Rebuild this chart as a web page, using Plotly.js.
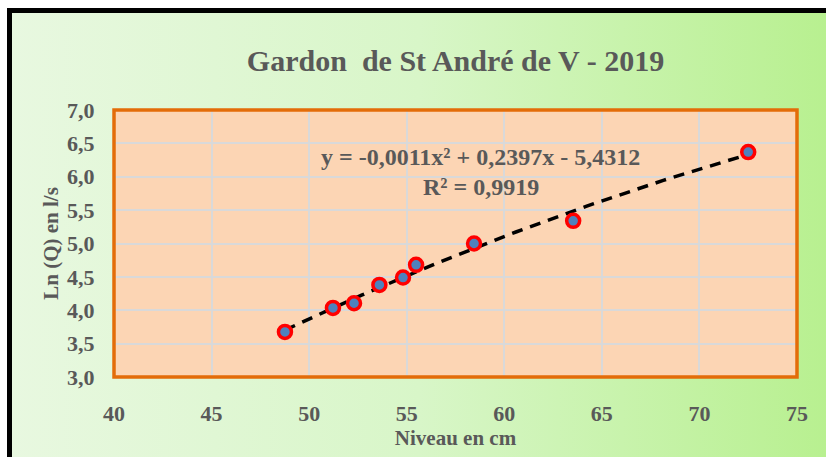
<!DOCTYPE html>
<html><head><meta charset="utf-8">
<script src="https://cdn.plot.ly/plotly-3.0.1.min.js"></script>
<style>
html,body{margin:0;padding:0;background:#fff;width:826px;height:457px;overflow:hidden;}
#wrap{position:absolute;left:7px;top:8px;width:814px;height:444px;border-left:5px solid #000;border-top:5px solid #000;
background:linear-gradient(to right,#e8f8e0 0%,#d8f6c8 50%,#b8f090 100%);}
#chart{width:814px;height:444px;}
</style></head>
<body><div id="wrap"><div id="chart"></div></div>
<script>
const niveau = [48.76, 51.22, 52.3, 53.6, 54.81, 55.48, 58.45, 63.53, 72.5];
const lnQ    = [3.675, 4.035, 4.105, 4.38, 4.49, 4.68, 5.0, 5.34, 6.37];
const titleText = "Gardon&nbsp; de St André de V - 2019";
const eqText = "y = -0,0011x² + 0,2397x - 5,4312";
const r2Text = "R² = 0,9919";

// quadratic least-squares trendline from the data
function quadFit(x, y){
  let S=[0,0,0,0,0], T=[0,0,0];
  for(let i=0;i<x.length;i++){
    let p=1;
    for(let k=0;k<5;k++){S[k]+=p; if(k<3)T[k]+=p*y[i]; p*=x[i];}
  }
  const A=[[S[0],S[1],S[2],T[0]],[S[1],S[2],S[3],T[1]],[S[2],S[3],S[4],T[2]]];
  for(let i=0;i<3;i++){
    for(let j=i+1;j<3;j++){const f=A[j][i]/A[i][i]; for(let k=i;k<4;k++)A[j][k]-=f*A[i][k];}
  }
  const c=[0,0,0];
  for(let i=2;i>=0;i--){let s=A[i][3]; for(let k=i+1;k<3;k++)s-=A[i][k]*c[k]; c[i]=s/A[i][i];}
  return c;
}
const c = quadFit(niveau, lnQ);
const xmin = Math.min(...niveau), xmax = Math.max(...niveau);
const tx=[], ty=[];
for(let i=0;i<=60;i++){const x=xmin+(xmax-xmin)*i/60; tx.push(x); ty.push(c[0]+c[1]*x+c[2]*x*x);}

const grey = '#595959';
const fontF = '"Liberation Serif","Times New Roman",serif';

const data = [
  {x: tx, y: ty, mode:'lines', line:{color:'#000', width:3.5, dash:'11px,8px'}, hoverinfo:'skip', showlegend:false},
  {x: niveau, y: lnQ, mode:'markers', marker:{size:13, color:'#4f81bd', line:{color:'#ff0000', width:3.5}}, showlegend:false}
];

const layout = {
  width:814, height:444,
  margin:{l:102, r:29, t:97, b:80},
  paper_bgcolor:'rgba(0,0,0,0)',
  plot_bgcolor:'#fcd5b4',
  separators:', ',
  font:{family:fontF, color:grey},
  title:{text:'<b>'+titleText+'</b>', font:{size:30, family:fontF, color:grey}, xref:'paper', x:0.5, xanchor:'center', yref:'container', y:0.892, yanchor:'middle'},
  xaxis:{range:[40,75], dtick:5, tick0:40, showgrid:true, gridcolor:'#d9d9d9', gridwidth:2, zeroline:false,
         showline:false, ticks:'outside', ticklen:17, tickcolor:'rgba(0,0,0,0)', tickfont:{size:22, family:fontF, color:grey, weight:'bold'},
         title:{text:'<b>Niveau en cm</b>', font:{size:21, family:fontF, color:grey}, standoff:3}},
  yaxis:{range:[3,7], dtick:0.5, tick0:3, tickformat:'.1f', showgrid:true, gridcolor:'#d9d9d9', gridwidth:2, zeroline:false,
         showline:false, ticks:'outside', ticklen:14, tickcolor:'rgba(0,0,0,0)', tickfont:{size:22, family:fontF, color:grey, weight:'bold'},
         title:{text:'<b>Ln (Q) en l/s</b>', font:{size:21, family:fontF, color:grey}, standoff:2}},
  shapes:[
    {type:'rect', xref:'paper', yref:'paper', x0:0, x1:1, y0:0, y1:1, line:{color:'#e36c09', width:3.5}, fillcolor:'rgba(0,0,0,0)'}
  ],
  annotations:[
    {text:'<b>'+eqText+'</b>', xref:'x', yref:'y', x:58.8, y:6.3, showarrow:false, font:{size:24, family:fontF, color:grey}},
    {text:'<b>'+r2Text+'</b>', xref:'x', yref:'y', x:58.8, y:5.85, showarrow:false, font:{size:24, family:fontF, color:grey}}
  ]
};
Plotly.newPlot('chart', data, layout, {displayModeBar:false, staticPlot:true});
</script></body></html>
